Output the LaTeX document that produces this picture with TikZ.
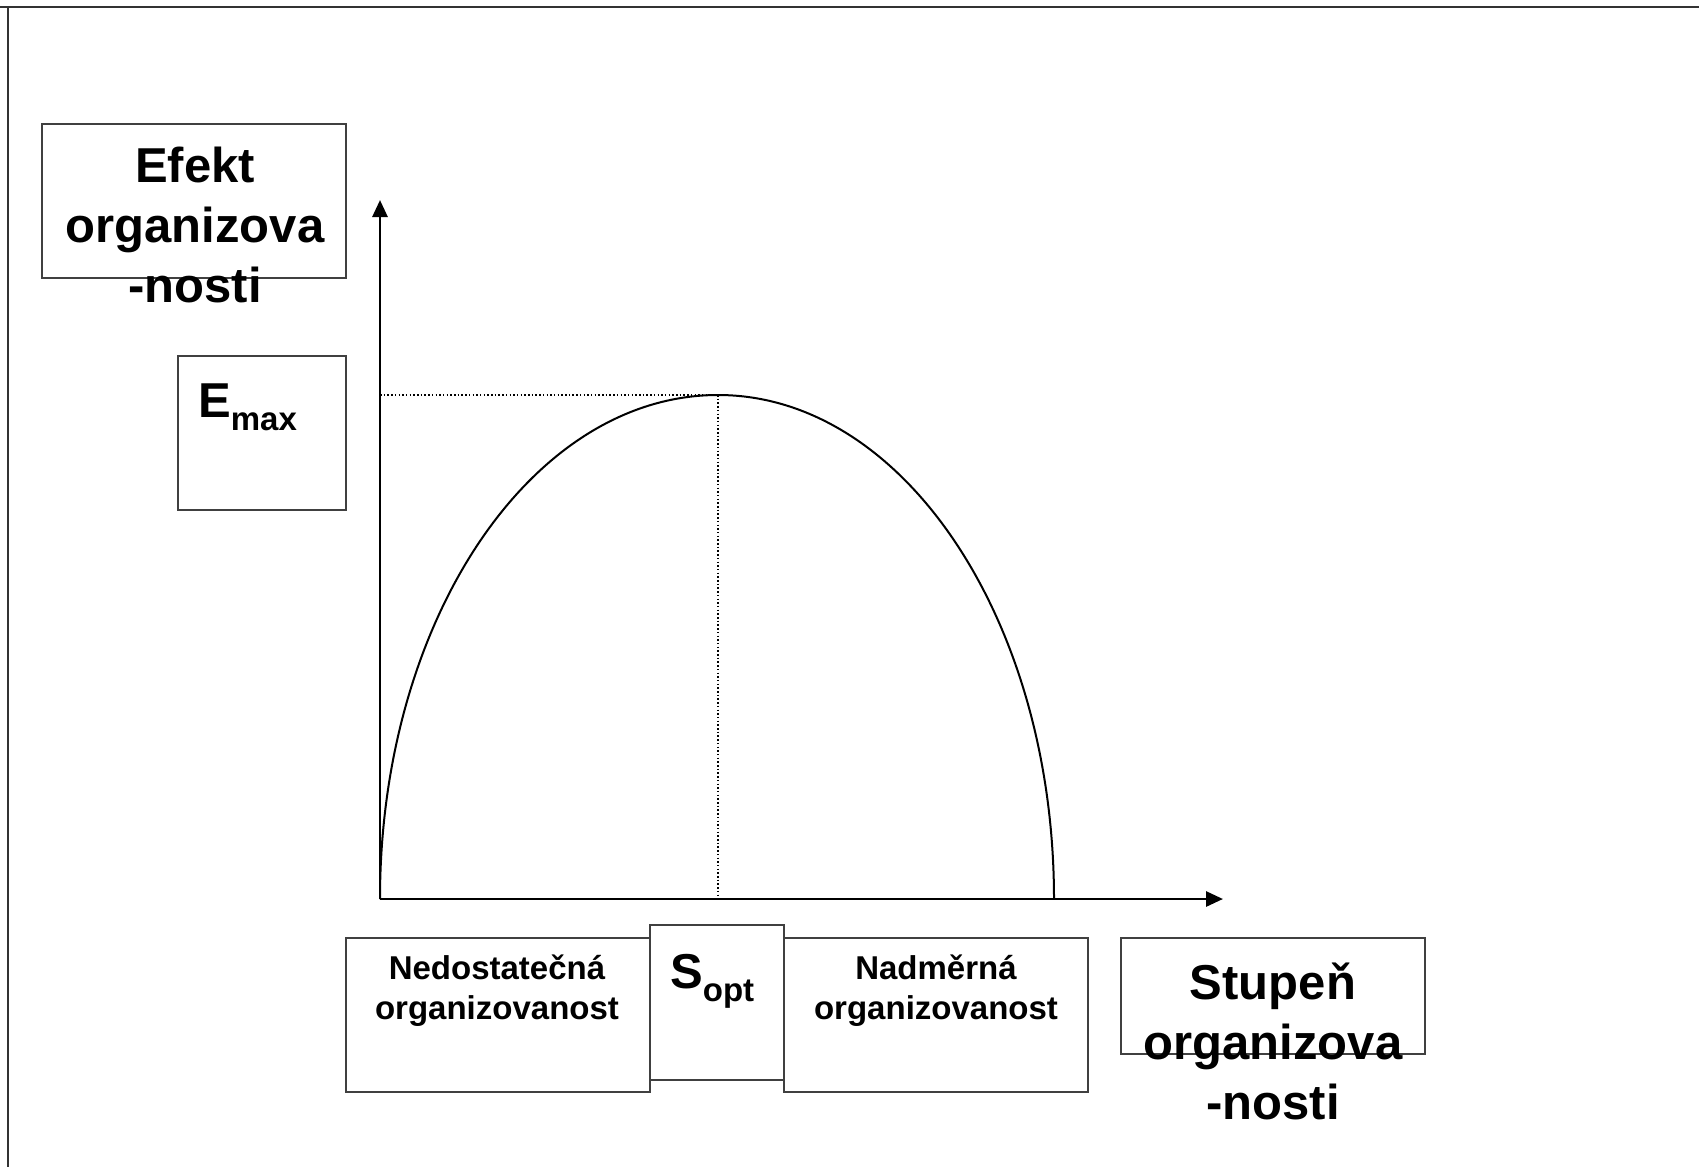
\documentclass[tikz,border=0pt]{standalone}
\usepackage{fontspec}
\setmainfont{Liberation Sans}
\usetikzlibrary{arrows.meta}
\begin{document}
\begin{tikzpicture}[x=1pt,y=-1pt,
  frameline/.style={draw=black!80,line width=2pt},
  boxnode/.style={draw=black!75,line width=1.4pt,inner sep=0pt,outer sep=0pt},
  bigtext/.style={font=\fontsize{49}{60}\selectfont\bfseries,align=center,inner sep=0pt},
  smalltext/.style={font=\fontsize{33}{40}\selectfont\bfseries,align=center,inner sep=0pt},
  axisline/.style={line width=2.8pt,-{Triangle[length=17pt,width=15pt]}},
  curveline/.style={line width=2pt},
  guide/.style={line width=1.5pt,dash pattern=on 1.5pt off 2.2pt}]
\useasboundingbox (0,0) rectangle (1699,1167);
% page frame
\draw[frameline] (0,7) -- (1699,7);
\draw[frameline] (8,7) -- (8,1167);
% boxes
\node[boxnode,minimum width=304pt,minimum height=154pt] (efektbox) at (194,201) {};
\node[boxnode,minimum width=168pt,minimum height=154pt] (emaxbox) at (262,433) {};
\node[boxnode,minimum width=304pt,minimum height=154pt] (nedbox) at (498,1015) {};
\node[boxnode,minimum width=134pt,minimum height=155pt] (soptbox) at (717,1002.5) {};
\node[boxnode,minimum width=304pt,minimum height=154pt] (nadbox) at (936,1015) {};
\node[boxnode,minimum width=304pt,minimum height=116pt] (stupbox) at (1273,996) {};
% texts
\node[bigtext] (efekttxt) at (195,225) {Efekt\\organizova\\-nosti};
\node[bigtext,anchor=base west] (emaxtxt) at (198,417) {E{\fontsize{33}{33}\selectfont\raisebox{-13pt}{max}}};
\node[bigtext,anchor=base west] (sopttxt) at (670,988) {S{\fontsize{33}{33}\selectfont\raisebox{-13pt}{opt}}};
\node[smalltext] (nedtxt) at (497,991) {Nedostatečná\\organizovanost};
\node[smalltext] (nadtxt) at (936,991) {Nadměrná\\organizovanost};
\node[bigtext] (stuptxt) at (1273,1041) {Stupeň\\organizova\\-nosti};
% axes
\coordinate (origin) at (380,899);
\coordinate (ytip) at (380,200);
\coordinate (xtip) at (1223,899);
\coordinate (peak) at (718,395);
\coordinate (emaxpt) at (380,395);
\coordinate (curveend) at (1054,899);
\draw[axisline] (origin) -- (ytip);
\draw[axisline] (origin) -- (xtip);
% curve
\draw[curveline] (origin) arc[start angle=180,end angle=270,x radius=338,y radius=504]
  arc[start angle=270,end angle=360,x radius=336,y radius=504];
% guides
\draw[guide] (emaxpt) -- (peak);
\draw[guide] (peak) -- (peak |- origin);
\end{tikzpicture}
\end{document}
